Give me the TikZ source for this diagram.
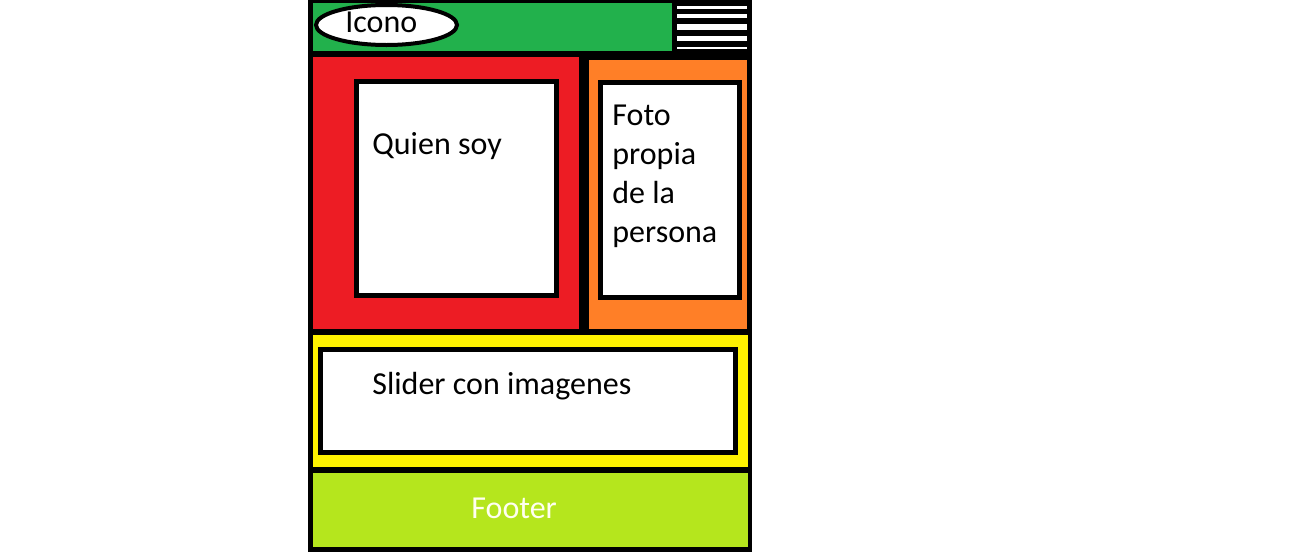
\documentclass[tikz,border=0pt]{standalone}
\usepackage{fontspec}
\setmainfont{Carlito}
\definecolor{pgreen}{HTML}{22B14C}
\definecolor{pred}{HTML}{ED1C24}
\definecolor{porange}{HTML}{FF7F27}
\definecolor{pyellow}{HTML}{FFF200}
\definecolor{plime}{HTML}{B5E61D}
\definecolor{offwhite}{HTML}{FFFFF0}
\begin{document}
\begin{tikzpicture}[x=0.5pt,y=-0.5pt,
  lbl/.style={inner sep=0pt,font=\fontsize{16}{19.5}\selectfont},
  wbox/.style={fill=white,draw=black,line width=2.5pt},
  stripe/.style={fill=white}]
\useasboundingbox (0,0) rectangle (1311,552);
\fill[white] (0,0) rectangle (1311,552);
% outer black frame
\fill[black] (308,0) rectangle (752,552);
% header
\fill[pgreen] (313,3) rectangle (672,51);
\foreach \a/\b in {5.7/8.7,14/18.3,24.3/29.7,35.7/41.3,46.7/49}
  \fill[stripe] (677,\a) rectangle (747,\b);
\draw[fill=white,line width=2pt] (386.5,25) ellipse [x radius=70.5,y radius=20];
\node[lbl,anchor=base west] (icono) at (345,32) {Icono};
% red section
\fill[pred] (313,57) rectangle (579,329);
\draw[wbox] (356.5,81.5) rectangle (556.5,295.5);
\node[lbl,anchor=base west] (quien) at (372,154) {Quien soy};
% orange section
\fill[porange] (589,60) rectangle (747,329);
\draw[wbox] (600.5,82.5) rectangle (739.5,297.5);
\node[lbl,anchor=base west,align=left] (foto) at (612,242) {Foto\\propia\\de la\\persona};
% slider
\fill[pyellow] (313,335) rectangle (748,467);
\draw[wbox] (320.5,349.5) rectangle (735.5,452.5);
\node[lbl,anchor=base west] (slider) at (372,394) {Slider con imagenes};
% footer
\fill[plime] (313,473) rectangle (748,547);
\node[lbl,anchor=base west,text=offwhite] (footer) at (471,518) {Footer};
\end{tikzpicture}
\end{document}
